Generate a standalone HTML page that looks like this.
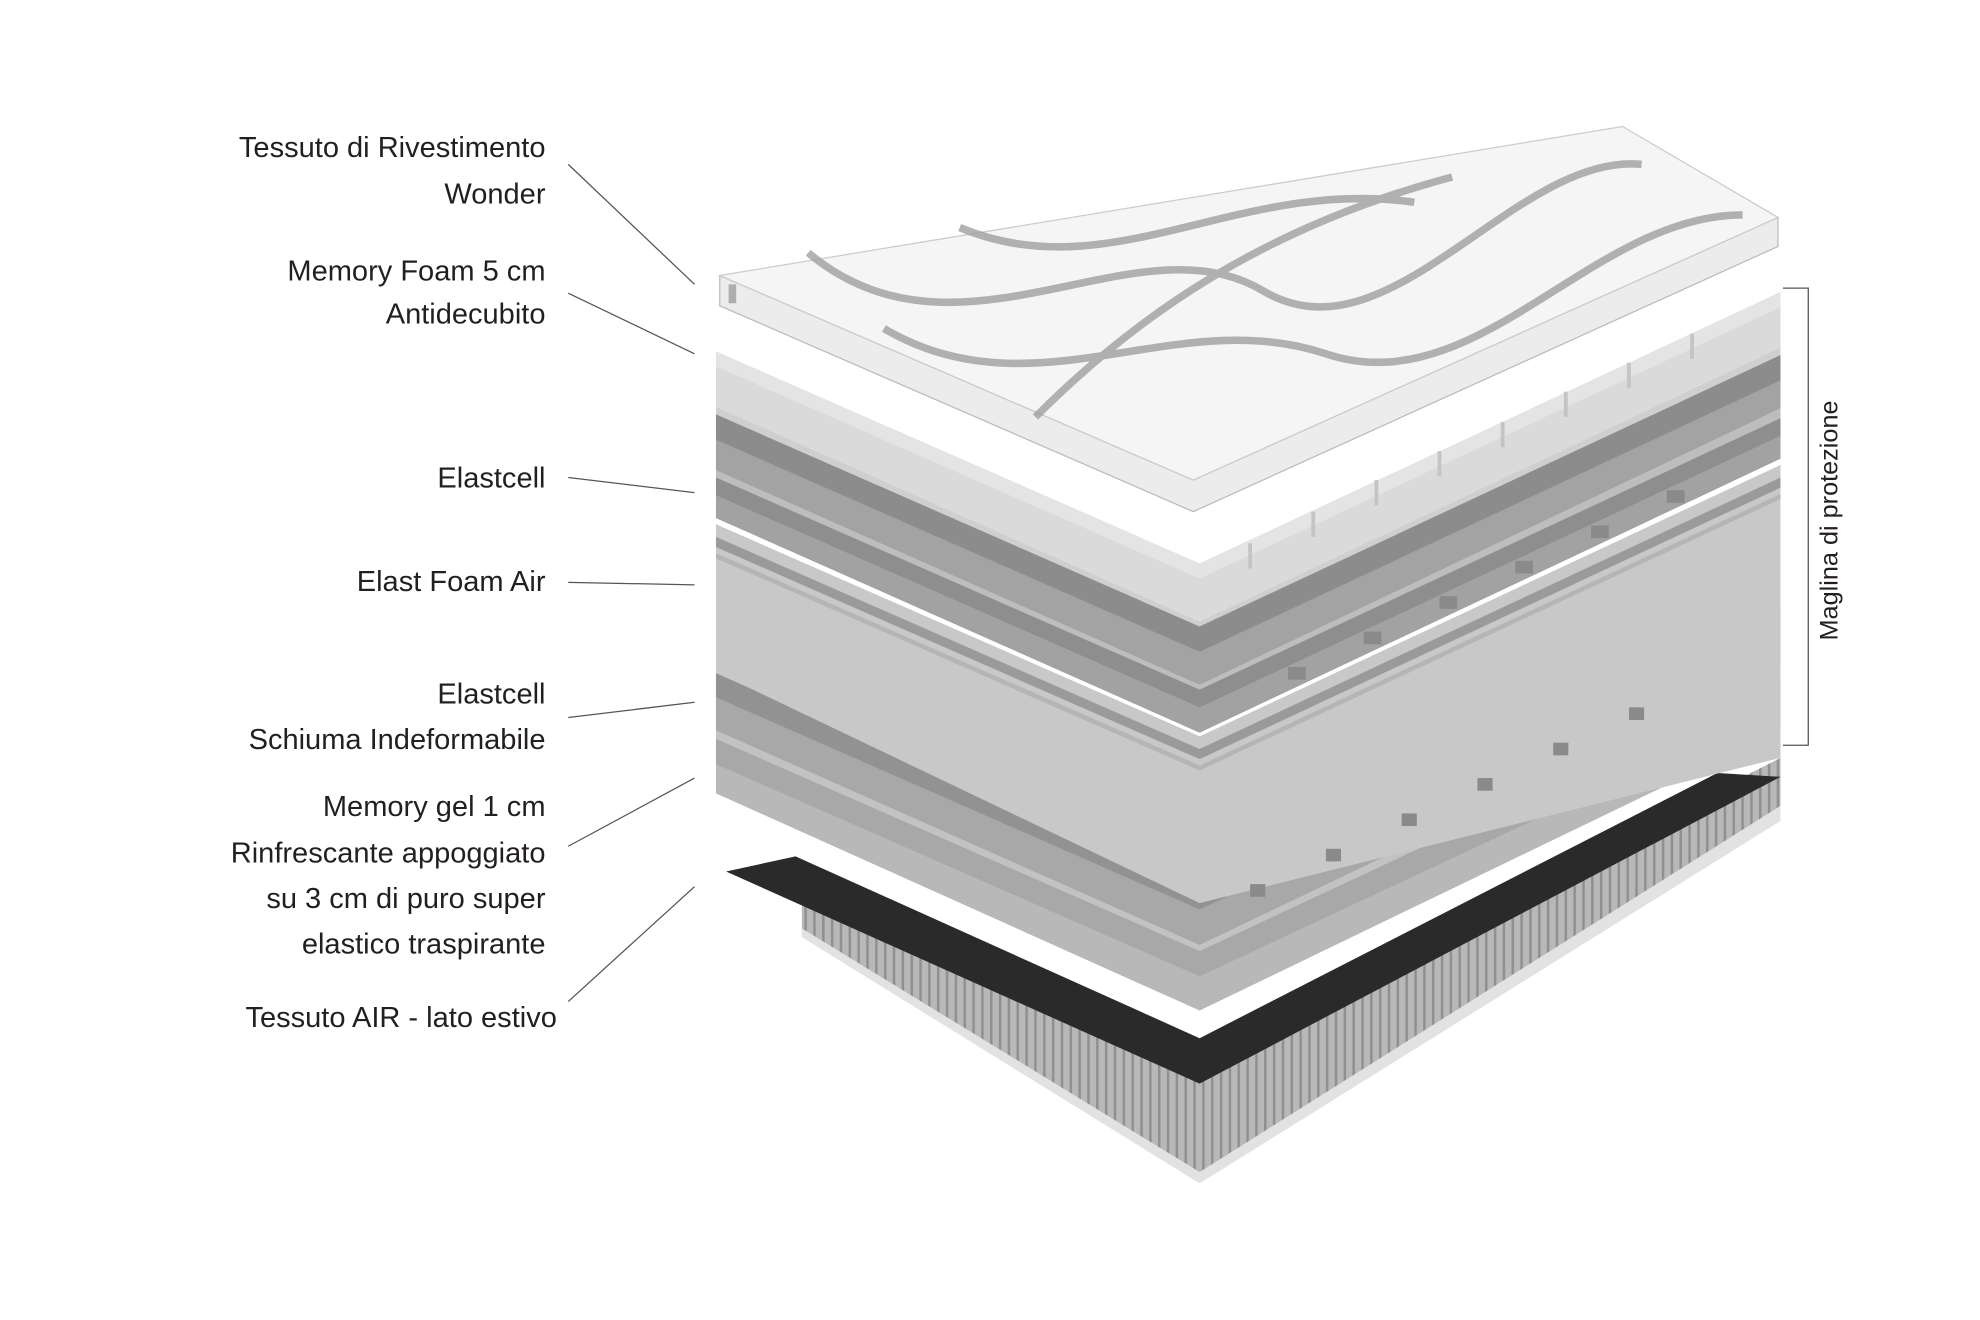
<!DOCTYPE html>
<html><head><meta charset="utf-8"><style>
html,body{margin:0;padding:0;background:#fff;}
svg{display:block}
text{font-family:"Liberation Sans",Arial,sans-serif;fill:#231f20}
</style></head><body>
<svg width="1980" height="1320" viewBox="0 0 1568 1045" xmlns="http://www.w3.org/2000/svg">
<defs>
<pattern id="stripes" width="7" height="10" patternUnits="userSpaceOnUse"><rect width="7" height="10" fill="#b8b8b8"/><rect width="2" height="10" fill="#909090"/></pattern>
</defs>
<g font-size="23" text-anchor="end">
<text x="432" y="124">Tessuto di Rivestimento</text>
<text x="432" y="161">Wonder</text>
<text x="432" y="222">Memory Foam 5 cm</text>
<text x="432" y="256">Antidecubito</text>
<text x="432" y="386">Elastcell</text>
<text x="432" y="468">Elast Foam Air</text>
<text x="432" y="557">Elastcell</text>
<text x="432" y="593">Schiuma Indeformabile</text>
<text x="432" y="646">Memory gel 1 cm</text>
<text x="432" y="683">Rinfrescante appoggiato</text>
<text x="432" y="719">su 3 cm di puro super</text>
<text x="432" y="755">elastico traspirante</text>
<text x="441" y="813">Tessuto AIR - lato estivo</text>
</g>
<g stroke="#555" stroke-width="1" fill="none">
<line x1="450" y1="130" x2="550" y2="225"/>
<line x1="450" y1="232" x2="550" y2="280"/>
<line x1="450" y1="378" x2="550" y2="390"/>
<line x1="450" y1="461" x2="550" y2="463"/>
<line x1="450" y1="568" x2="550" y2="556"/>
<line x1="450" y1="670" x2="550" y2="616"/>
<line x1="450" y1="793" x2="550" y2="702"/>
<polyline points="1412,228 1432,228 1432,590 1412,590"/>
</g>
<text font-size="20" transform="translate(1455,412) rotate(-90)" text-anchor="middle">Maglina di protezione</text>

<!-- base -->
<polygon points="635,690 950,835 1410,600 1410,640 950,930 635,740" fill="url(#stripes)"/>
<polygon points="950,928 1410,638 1410,650 950,937 635,742 635,735" fill="#e2e2e2"/>
<polygon points="575,690 630,678 950,822 1360,612 1410,615 950,858" fill="#2a2a2a"/>

<!-- memory gel -->
<polygon points="567,570 950,738 1410,523 1410,578 950,800 567,628" fill="#c2c2c2"/>
<polygon points="567,585 950,753 1410,538 1410,578 950,800 567,628" fill="#a8a8a8"/>
<polygon points="567,605 950,773 1410,558 1410,578 950,800 567,628" fill="#b8b8b8"/>
<!-- elastcell lower -->
<polygon points="567,518 950,686 1410,471 1410,528 950,748 567,578" fill="#c6c6c6"/>
<polygon points="567,533 950,701 1410,486 1410,528 950,748 567,578" fill="#929292"/>
<polygon points="567,552 950,720 1410,505 1410,528 950,748 567,578" fill="#a8a8a8"/>
<!-- elast foam air -->
<polygon points="567,415 950,583 1410,368 1410,600 950,715 567,532" fill="#c8c8c8"/>
<polygon points="567,425 950,593 1410,378 1410,386 950,601 567,433" fill="#9a9a9a"/>
<polygon points="567,438 950,606 1410,391 1410,395 950,610 567,442" fill="#b5b5b5"/>
<!-- elastcell upper thin -->
<polygon points="567,370 950,538 1410,323 1410,363 950,580 567,410" fill="#bdbdbd"/>
<polygon points="567,378 950,546 1410,331 1410,363 950,580 567,410" fill="#8e8e8e"/>
<polygon points="567,392 950,560 1410,345 1410,363 950,580 567,410" fill="#a2a2a2"/>
<!-- elastcell -->
<polygon points="567,318 950,486 1410,271 1410,323 950,542 567,372" fill="#cfcfcf"/>
<polygon points="567,328 950,496 1410,281 1410,323 950,542 567,372" fill="#8c8c8c"/>
<polygon points="567,348 950,516 1410,301 1410,323 950,542 567,372" fill="#a3a3a3"/>
<!-- memory foam -->
<polygon points="567,278 950,446 1410,231 1410,275 950,492 567,322" fill="#e4e4e4"/>
<polygon points="567,290 950,458 1410,243 1410,275 950,492 567,322" fill="#dadada"/>
<g fill="none" stroke="#c4c4c4" stroke-width="3">
<path d="M990,430 l0,20 M1040,405 l0,20 M1090,380 l0,20 M1140,357 l0,20 M1190,334 l0,20 M1240,310 l0,20 M1290,287 l0,20 M1340,264 l0,20"/>
</g>
<!-- notches on foam air right face -->
<g fill="#8a8a8a">
<rect x="1020" y="528" width="14" height="10"/><rect x="1080" y="500" width="14" height="10"/><rect x="1140" y="472" width="14" height="10"/><rect x="1200" y="444" width="14" height="10"/><rect x="1260" y="416" width="14" height="10"/><rect x="1320" y="388" width="14" height="10"/>
<rect x="990" y="700" width="12" height="10"/><rect x="1050" y="672" width="12" height="10"/><rect x="1110" y="644" width="12" height="10"/><rect x="1170" y="616" width="12" height="10"/><rect x="1230" y="588" width="12" height="10"/><rect x="1290" y="560" width="12" height="10"/>
</g>

<!-- top cover -->
<polygon points="570,218 945,380 1408,172 1408,195 945,405 570,242" fill="#ececec" stroke="#bbb"/>
<polygon points="570,218 1285,100 1408,172 945,380" fill="#f5f5f5" stroke="#ccc"/>
<g fill="none" stroke="#9a9a9a" stroke-width="6" opacity="0.75">
<path d="M640,200 C760,300 900,170 1000,230 S1200,120 1300,130"/>
<path d="M700,260 C820,330 930,240 1050,280 S1260,170 1380,170"/>
<path d="M820,330 C900,250 1000,180 1150,140"/>
<path d="M760,180 C880,230 980,140 1120,160"/>
<path d="M580,225 l0,15"/>
</g>
</svg>
</body></html>
